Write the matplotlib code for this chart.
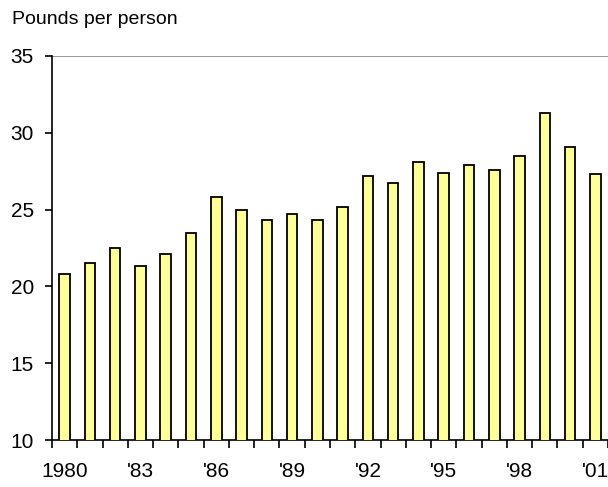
import matplotlib.pyplot as plt
import numpy as np

plt.rcParams['font.family'] = ['Liberation Sans', 'DejaVu Sans']

years = list(range(1980, 2002))
pounds = [20.8, 21.5, 22.5, 21.3, 22.1, 23.5, 25.8, 25.0, 24.3, 24.7, 24.3,
          25.2, 27.2, 26.7, 28.1, 27.4, 27.9, 27.6, 28.5, 31.3, 29.1, 27.3]
year_labels = ['1980', "'83", "'86", "'89", "'92", "'95", "'98", "'01"]

fig = plt.figure(figsize=(6.08, 4.87), dpi=100)
ax = fig.add_axes([52 / 608, 1 - 440 / 487, 1 - 52 / 608, (440 - 56) / 487])

x = np.arange(len(years))
ax.bar(x, pounds, width=0.42, color='#ffff99', edgecolor='black',
       linewidth=1.3, zorder=3)

ax.set_xlim(-0.5, len(years) - 0.5)
ax.set_ylim(10, 35)
ax.set_yticks(range(10, 36, 5))

# labels every third year, tick marks between bars
ax.set_xticks(x[::3])
ax.set_xticklabels(year_labels, fontsize=15)
ax.set_xticks(np.arange(-0.5, len(years), 1), minor=True)
ax.tick_params(axis='x', which='major', length=0, pad=16)
ax.tick_params(axis='x', which='minor', length=6, width=1.2, color='black')
ax.tick_params(axis='y', length=5, width=1.2, pad=8, labelsize=15)

ax.axhline(35, color='#999999', linewidth=1.5, zorder=2)
for side in ['top', 'right']:
    ax.spines[side].set_visible(False)
for side in ['left', 'bottom']:
    ax.spines[side].set_linewidth(1.2)

fig.text(12 / 608, 1 - 20 / 487, 'Pounds per person', fontsize=14,
         va='center', ha='left')

fig.savefig('out.png', dpi=100)
